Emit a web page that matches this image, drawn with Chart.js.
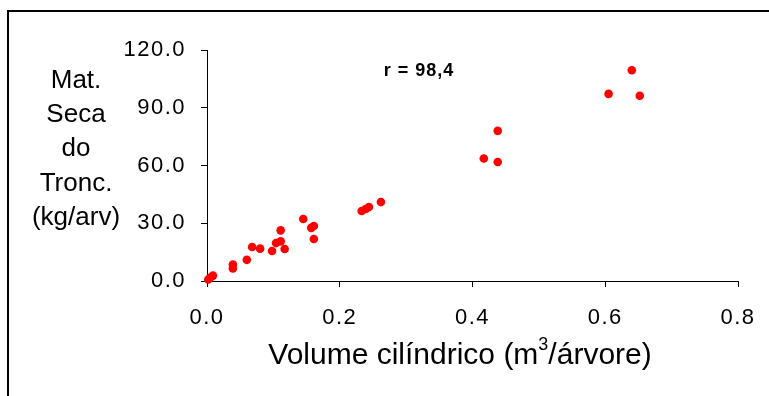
<!DOCTYPE html>
<html>
<head>
<meta charset="utf-8">
<script src="https://cdn.jsdelivr.net/npm/chart.js@4"></script>
<style>
  html, body { margin: 0; padding: 0; background: #fff; }
  #wrap { position: relative; width: 769px; height: 396px; }
</style>
</head>
<body>
<div id="wrap"><canvas id="scatterChart"></canvas></div>
<script>
"use strict";

/* ── Data ─────────────────────────────────────────────────────────────── */
const volumes = [
  0.002, 0.005, 0.009, 0.039, 0.039, 0.060, 0.068, 0.080, 0.098, 0.104,
  0.111, 0.111, 0.117, 0.145, 0.157, 0.161, 0.161, 0.233, 0.239, 0.244,
  0.262, 0.417, 0.438, 0.438, 0.605, 0.640, 0.652,
];
const drymass = [
  0.8, 1.8, 2.8, 8.5, 6.5, 11.0, 17.7, 16.8, 15.6, 19.7,
  20.6, 26.3, 16.6, 32.2, 27.6, 28.6, 21.8, 36.4, 37.4, 38.4,
  41.0, 63.6, 61.8, 78.0, 97.2, 109.5, 96.2,
];
const xTicks = [0, 0.2, 0.4, 0.6, 0.8];
const yTicks = [0, 30, 60, 90, 120];
const yTitleLines = ["Mat.", "Seca", "do", "Tronc.", "(kg/arv)"];
const xTitleParts = ["Volume cilíndrico (m", "3", "/árvore)"];
const rLabel = "r = 98,4";

const FONT = "'Liberation Sans', Arial, sans-serif";

/* ── Extra drawing: frame, titles, r label ────────────────────────────── */
const decorPlugin = {
  id: "decor",
  beforeDraw(chart) {
    // tick labels in the reference are a bit wider than Arial
    chart.ctx.letterSpacing = "1.5px";
  },
  afterDraw(chart) {
    const ctx = chart.ctx;
    ctx.save();
    ctx.letterSpacing = "0px";
    ctx.fillStyle = "#000";

    // outer frame (only top and left visible)
    ctx.strokeStyle = "#000";
    ctx.lineWidth = 2;
    ctx.beginPath();
    ctx.moveTo(8, 400);
    ctx.lineTo(8, 11);
    ctx.lineTo(775, 11);
    ctx.stroke();

    // y title, stacked lines
    ctx.font = `26px ${FONT}`;
    ctx.textAlign = "center";
    ctx.textBaseline = "alphabetic";
    yTitleLines.forEach((t, i) => ctx.fillText(t, 76, 88 + i * 34.2));

    // x title with superscript
    const big = `30px ${FONT}`;
    const small = `18px ${FONT}`;
    ctx.textAlign = "left";
    ctx.font = big;
    const w0 = ctx.measureText(xTitleParts[0]).width;
    const w2 = ctx.measureText(xTitleParts[2]).width;
    ctx.font = small;
    const w1 = ctx.measureText(xTitleParts[1]).width;
    let x = 460 - (w0 + w1 + w2) / 2;
    const base = 364;
    ctx.font = big;
    ctx.fillText(xTitleParts[0], x, base);
    x += w0;
    ctx.font = small;
    ctx.fillText(xTitleParts[1], x, base - 14);
    x += w1;
    ctx.font = big;
    ctx.fillText(xTitleParts[2], x, base);

    // correlation label
    ctx.font = `bold 18px ${FONT}`;
    ctx.letterSpacing = "1px";
    ctx.textAlign = "center";
    ctx.fillText(rLabel, 419, 76);
    ctx.restore();
  },
};

/* ── Scatter chart ────────────────────────────────────────────────────── */
function initScatterChart() {
  const canvas = document.getElementById("scatterChart");
  if (!canvas) return;

  const points = volumes.map((v, i) => ({ x: v, y: drymass[i] }));

  const axisCommon = {
    type: "linear",
    border: { display: true, color: "#000", width: 1 },
    grid: {
      drawOnChartArea: false,
      drawTicks: true,
      tickLength: 6,
      color: "#000",
      lineWidth: 1,
    },
  };

  new Chart(canvas.getContext("2d"), {
    type: "scatter",
    data: {
      datasets: [
        {
          data: points,
          backgroundColor: "#ff0000",
          borderWidth: 0,
          pointRadius: 4.3,
          pointHoverRadius: 4.3,
          clip: false,
        },
      ],
    },
    options: {
      responsive: true,
      maintainAspectRatio: false,
      animation: false,
      layout: { padding: { top: 50, right: 31, bottom: 0, left: 0 } },
      plugins: {
        legend: { display: false },
        tooltip: { enabled: false },
      },
      scales: {
        x: {
          ...axisCommon,
          position: "bottom",
          min: xTicks[0],
          max: xTicks[xTicks.length - 1],
          afterFit: (s) => {
            s.height = 115;
            s.paddingLeft = 0;
            s.paddingRight = 0;
          },
          afterBuildTicks: (s) => { s.ticks = xTicks.map((v) => ({ value: v })); },
          ticks: {
            color: "#000",
            font: { family: FONT, size: 22 },
            padding: 18,
            maxRotation: 0,
            callback: (v) => Number(v).toFixed(1),
          },
        },
        y: {
          ...axisCommon,
          position: "left",
          min: yTicks[0],
          max: yTicks[yTicks.length - 1],
          afterFit: (s) => {
            s.width = 207;
            s.paddingTop = 0;
            s.paddingBottom = 0;
          },
          afterBuildTicks: (s) => { s.ticks = yTicks.map((v) => ({ value: v })); },
          ticks: {
            color: "#000",
            font: { family: FONT, size: 22 },
            padding: 15,
            callback: (v) => Number(v).toFixed(1),
          },
        },
      },
    },
    plugins: [decorPlugin],
  });
}

document.addEventListener("DOMContentLoaded", initScatterChart);
</script>
</body>
</html>
